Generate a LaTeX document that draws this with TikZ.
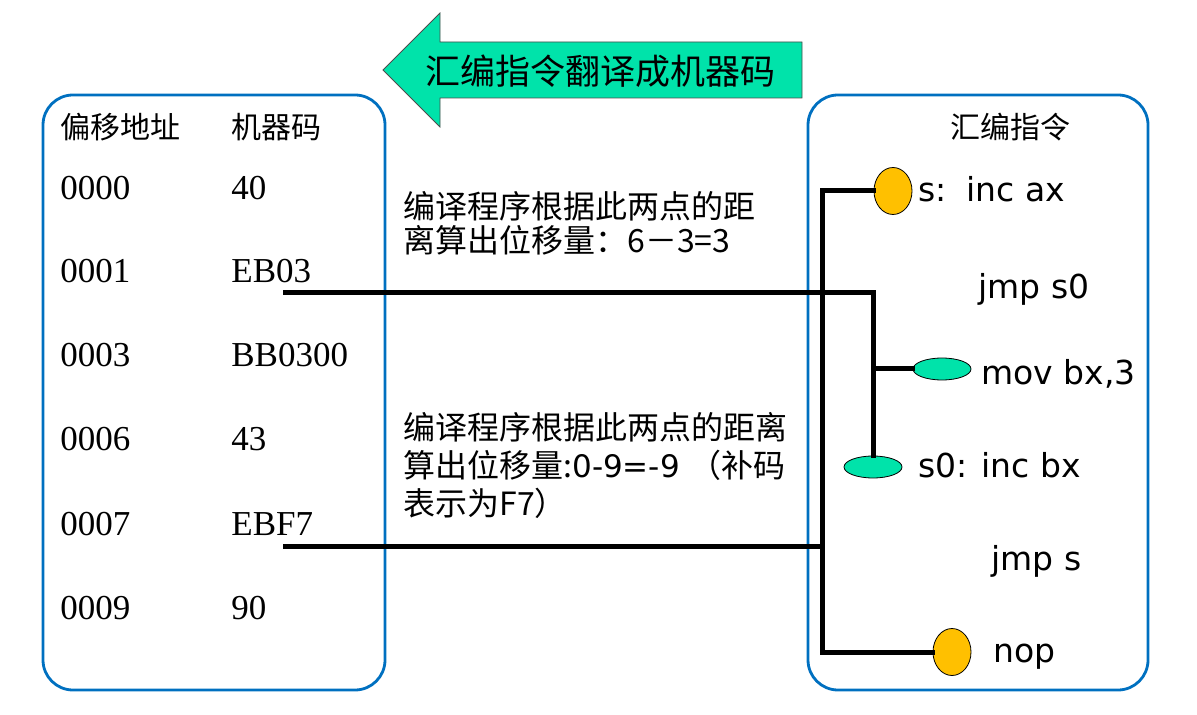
\documentclass[tikz,border=0pt]{standalone}
\usepackage{fontspec}
\setmainfont{Liberation Serif}
\newfontfamily\cjk{Noto Sans CJK SC}
\newfontfamily\asmfont{DejaVu Sans}
\usetikzlibrary{positioning,shapes.geometric,calc}
\definecolor{uFrame}{HTML}{0070C0}
\definecolor{uMint}{HTML}{00E3AA}
\definecolor{uGold}{HTML}{FFC000}
\tikzset{
  panel/.style={draw=uFrame, line width=1.4pt, rounded corners=15pt,
                inner sep=0pt},
  banner/.style={draw=black!70, line width=0.4pt, fill=uMint},
  bannertext/.style={font=\cjk\fontsize{17.5}{20}\selectfont, inner sep=0pt},
  head/.style={font=\cjk\fontsize{15}{18}\selectfont, anchor=west, inner sep=0pt},
  cell/.style={font=\fontsize{17.5}{20}\selectfont, anchor=base west, inner sep=0pt},
  asm/.style={font=\asmfont\fontsize{16.5}{20}\selectfont, anchor=base west,
              inner sep=0pt},
  note/.style={font=\cjk\fontsize{16}{17}\selectfont, align=left,
               anchor=north west, inner sep=0pt},
  link/.style={line width=2.5pt, line cap=rect},
  dotY/.style={ellipse, draw=black, line width=0.4pt, fill=uGold,
               minimum width=19pt, minimum height=23.5pt, inner sep=0pt},
  dotM/.style={ellipse, draw=black, line width=0.4pt, fill=uMint,
               minimum width=29pt, minimum height=11pt, inner sep=0pt},
}

\begin{document}
\begin{tikzpicture}[x=0.5pt, y=-0.5pt]
\useasboundingbox (0,0) rectangle (1197,715);

%% ── the two panels ───────────────────────────────────────────────────────
\node[panel, minimum width=171pt, minimum height=297.5pt] (code) at (214,392.5) {};
\node[panel, minimum width=170pt, minimum height=297.5pt] (src) at (978,392.5) {};

%% ── the banner arrow, pointing left ──────────────────────────────────────
\draw[banner] (383,70) -- (440,13) -- (440,42) -- (802,42) -- (802,98)
  -- (440,98) -- (440,127) -- cycle;
\node[bannertext] (title) at (600,71) {汇编指令翻译成机器码};

%% ── offsets and machine code, left ───────────────────────────────────────
\node[head] (hoff) at (60,127) {偏移地址};
\node[head] (hmc) at (231,127) {机器码};
\foreach \name/\y/\off/\mc in {r0/200/0000/40, r1/283/0001/EB03,
    r3/367/0003/BB0300, r6/451/0006/43, r7/535/0007/EBF7, r9/619/0009/90} {
  \node[cell] (\name o) at (60,\y) {\off};
  \node[cell] (\name m) at (231,\y) {\mc};
}

%% ── assembly listing, right ──────────────────────────────────────────────
\node[head] (hasm) at (950,127) {汇编指令};
\node[asm] (ls)   at (918,202) {s:\hspace{0.6em}inc ax};
\node[asm] (ljs0) at (978,299) {jmp s0};
\node[asm] (lmov) at (981,385) {mov bx,3};
\node[asm] (ls0)  at (918,477) {s0: inc bx};
\node[asm] (ljs)  at (991,570) {jmp s};
\node[asm] (lnop) at (993,662) {nop};

%% ── label marks ──────────────────────────────────────────────────────────
\node[dotY] (ds)   at (893,191) {};
\node[dotM] (dmov) at (942,369) {};
\node[dotM] (ds0)  at (873,467) {};
\node[dotY] (dnop) at (952,652) {};

%% ── jump distances ───────────────────────────────────────────────────────
\coordinate (j1) at (285,293);
\coordinate (j2) at (285,546);
\coordinate (bus) at (822,546);
\draw[link] (j1) -| (ds0.north);
\draw[link] (ds0 |- dmov) -- (dmov.west);
\draw[link] (j2) -- (bus);
\draw[link] (ds.west) -| (bus) |- (dnop.west);

%% ── notes ────────────────────────────────────────────────────────────────
\node[note] (n1) at (403,191)
  {编译程序根据此两点的距\\离算出位移量：6－3=3};
\node[note, font=\cjk\fontsize{16}{19}\selectfont] (n2) at (403,412)
  {编译程序根据此两点的距离\\
   算出位移量:{\asmfont\fontsize{15.5}{19}\selectfont 0-9=-9}\hspace{0.3em}（补码\\
   表示为F7）};

\end{tikzpicture}
\end{document}
